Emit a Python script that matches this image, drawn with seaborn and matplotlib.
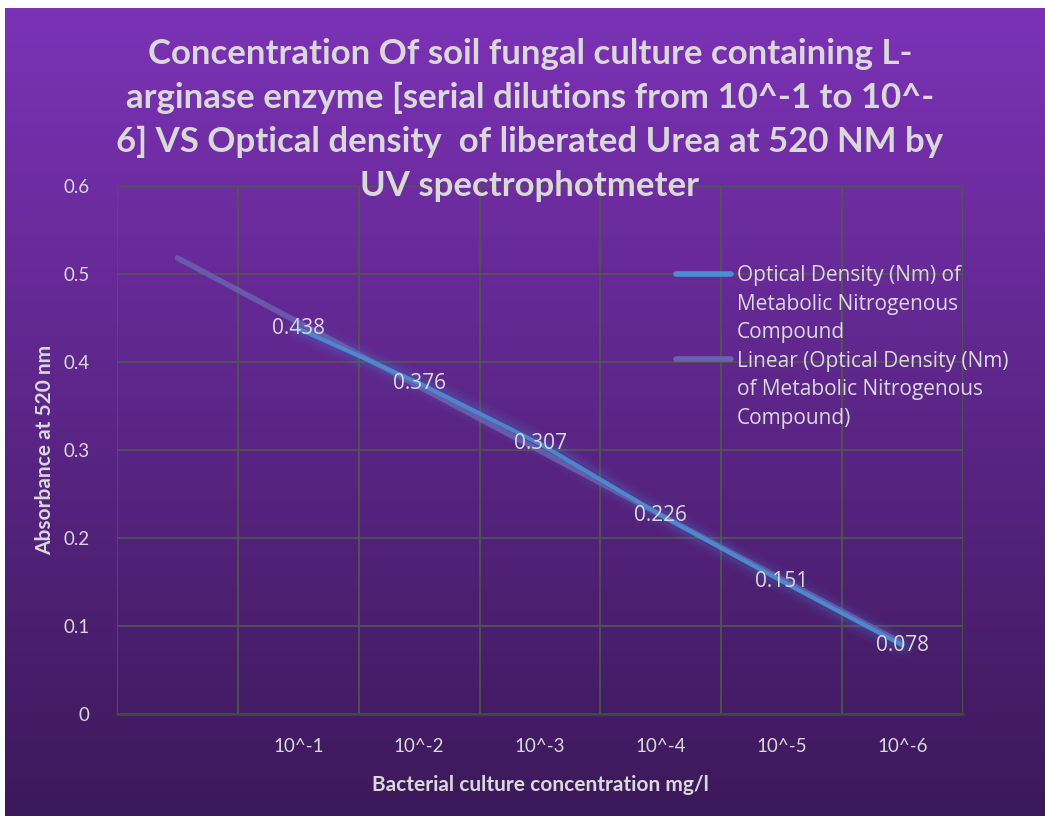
import numpy as np
import pandas as pd
import matplotlib
import matplotlib.pyplot as plt
import seaborn as sns
from matplotlib.lines import Line2D

matplotlib.use('agg')

# category slots on the x axis (first slot is empty in the original sheet)
categories = ['', '10^-1', '10^-2', '10^-3', '10^-4', '10^-5', '10^-6']
dilutions = ['10^-1', '10^-2', '10^-3', '10^-4', '10^-5', '10^-6']
absorbance = [0.438, 0.376, 0.307, 0.226, 0.151, 0.078]
y_ticks = [0, 0.1, 0.2, 0.3, 0.4, 0.5, 0.6]

title = ("Concentration Of soil fungal culture containing L-\n"
         "arginase enzyme [serial dilutions from 10^-1 to 10^-\n"
         "6] VS Optical density  of liberated Urea at 520 NM by\n"
         "UV spectrophotmeter")
series_lines = ["Optical Density (Nm) of", "Metabolic Nitrogenous", "Compound"]
trend_lines = ["Linear (Optical Density (Nm)", "of Metabolic Nitrogenous", "Compound)"]

sns.set_style("white")
plt.rcParams['font.family'] = ['Lato', 'DejaVu Sans']

TXT = '#d9d9d9'
GRID = '#4f5a48'
LINE = '#4a8fd4'
TREND = '#6a62b0'
SANS = ['Open Sans', 'DejaVu Sans']

fig = plt.figure(figsize=(10.45, 8.16), dpi=100)
fig.patch.set_facecolor('white')

# purple gradient background
bg = fig.add_axes([0.005, 0.0, 0.995, 0.99], zorder=-1)
top = np.array([124, 50, 182]) / 255
bottom = np.array([60, 25, 90]) / 255
t = np.linspace(0, 1, 256)[:, None]
grad = top * (1 - t) + bottom * t
bg.imshow(grad[:, None, :].repeat(2, axis=1), aspect='auto', extent=[0, 1, 0, 1])
bg.set_axis_off()

ax = fig.add_axes([0.112, 0.125, 0.8095, 0.647])
ax.set_facecolor('none')

df = pd.DataFrame({'pos': [categories.index(d) for d in dilutions],
                   'absorbance': absorbance})

# linear trendline, forecast back one period to the empty slot
k, b = np.polyfit(df['pos'], df['absorbance'], 1)
trend = pd.DataFrame({'pos': [0, len(categories) - 1]})
trend['absorbance'] = k * trend['pos'] + b

# glow under the data line
for w, a in [(18, 0.05), (13, 0.07), (9, 0.1)]:
    sns.lineplot(data=df, x='pos', y='absorbance', ax=ax, color=LINE,
                 linewidth=w, alpha=a, solid_capstyle='round', zorder=2)
sns.lineplot(data=trend, x='pos', y='absorbance', ax=ax, color=TREND,
             linewidth=4, alpha=0.85, solid_capstyle='round', zorder=3)
sns.lineplot(data=df, x='pos', y='absorbance', ax=ax, color=LINE,
             linewidth=3, alpha=0.9, solid_capstyle='round', zorder=4)

for xp, yv in zip(df['pos'], df['absorbance']):
    ax.text(xp, yv, f"{yv:.3f}", ha='center', va='center', color=TXT,
            fontsize=15, family=SANS, zorder=5)

ax.set_xlim(-0.5, len(categories) - 0.5)
ax.set_ylim(0, 0.6)
ax.set_yticks(y_ticks)
ax.set_yticklabels([f"{v:g}" for v in y_ticks])
ax.set_xticks(range(len(categories)))
ax.set_xticklabels(categories)
ax.set_xticks(np.arange(-0.5, len(categories), 1), minor=True)
ax.grid(False)
ax.grid(True, which='minor', axis='x', color=GRID, linewidth=1.2)
ax.grid(True, which='major', axis='y', color=GRID, linewidth=1.2)
ax.tick_params(axis='both', which='both', length=0, colors=TXT, labelsize=13.5)
ax.tick_params(axis='x', pad=17)
ax.tick_params(axis='y', pad=20)
for s in ['left', 'top', 'right']:
    ax.spines[s].set_visible(False)
ax.spines['bottom'].set_color('#3f4a38')
ax.spines['bottom'].set_linewidth(1.8)

ax.set_xlabel("Bacterial culture concentration mg/l", color=TXT, fontsize=15,
              fontweight='bold', labelpad=15)
ax.set_ylabel("Absorbance at 520 nm", color=TXT, fontsize=15,
              fontweight='bold', labelpad=6)

fig.text(0.507, 0.853, title, ha='center', va='center', color=TXT, fontsize=25,
         fontweight='bold', linespacing=1.45)

# legend rows: handle only on the first line of each entry
blank = Line2D([0], [0], color='none')
handles = [Line2D([0], [0], color=LINE, linewidth=4), blank, blank,
           Line2D([0], [0], color=TREND, linewidth=4), blank, blank]
labels = series_lines + trend_lines
leg = ax.legend(handles, labels, loc='upper left',
                bbox_to_anchor=(0.647, 0.675), bbox_transform=fig.transFigure,
                frameon=False, borderpad=0, borderaxespad=0, handlelength=2.65,
                handletextpad=0.25, labelspacing=0.36, prop={'family': SANS, 'size': 15})
for txt in leg.get_texts():
    txt.set_color(TXT)

plt.savefig("out.png", dpi=100)
plt.close()
